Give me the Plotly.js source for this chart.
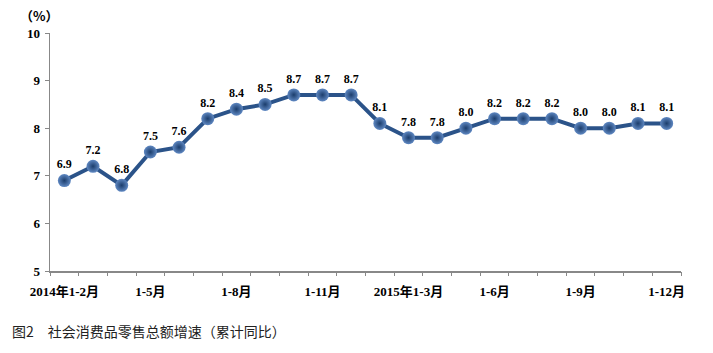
<!DOCTYPE html>
<html>
<head>
<meta charset="utf-8">
<script src="https://cdn.plot.ly/plotly-3.0.1.min.js"></script>
<style>html,body{margin:0;padding:0;background:#fff}#chart{width:713px;height:353px}</style>
</head>
<body>
<div id="chart"></div>
<script>
var categories = ["2014年1-2月","2014年1-3月","2014年1-4月","2014年1-5月","2014年1-6月","2014年1-7月","2014年1-8月","2014年1-9月","2014年1-10月","2014年1-11月","2014年1-12月",
                  "2015年1-2月","2015年1-3月","2015年1-4月","2015年1-5月","2015年1-6月","2015年1-7月","2015年1-8月","2015年1-9月","2015年1-10月","2015年1-11月","2015年1-12月"];
var values = [6.9,7.2,6.8,7.5,7.6,8.2,8.4,8.5,8.7,8.7,8.7,8.1,7.8,7.8,8.0,8.2,8.2,8.2,8.0,8.0,8.1,8.1];
var tickCats = ["2014年1-2月","2014年1-5月","2014年1-8月","2014年1-11月","2015年1-3月","2015年1-6月","2015年1-9月","2015年1-12月"];
var tickLabels = ["2014年1-2月","1-5月","1-8月","1-11月","2015年1-3月","1-6月","1-9月","1-12月"];
var yTicks = [5,6,7,8,9,10];

var boundaries = [];
for (var i = 0; i <= categories.length; i++) boundaries.push(i - 0.5);

var labelFont = {family:"Liberation Serif, 'Noto Sans CJK SC', serif", size:12, color:"#000", weight:"bold"};
var tickFont = {family:"Liberation Serif, 'Noto Sans CJK SC', serif", size:13, color:"#000", weight:"bold"};

var traces = [{
  type:"scatter", mode:"lines+markers+text",
  x:categories, y:values,
  text:values.map(function(v){return v.toFixed(1);}),
  textposition:"top center",
  textfont:labelFont,
  line:{color:"#2b5389", width:4},
  marker:{size:13, color:"#5f88c2", gradient:{type:"radial", color:"#1b3d6c"}, line:{width:0}},
  cliponaxis:false, hoverinfo:"skip", showlegend:false
},{
  type:"scatter", mode:"markers", x:[0], y:[5], xaxis:"x2",
  marker:{opacity:0}, hoverinfo:"skip", showlegend:false
}];

var layout = {
  width:713, height:353,
  margin:{l:50, r:32, t:33, b:82},
  paper_bgcolor:"#fff", plot_bgcolor:"#fff",
  xaxis:{type:"category", range:[-0.5,21.5], tickvals:tickCats, ticktext:tickLabels,
         ticks:"", showgrid:false, zeroline:false, showline:true, linecolor:"#888", linewidth:1.5,
         tickfont:tickFont, ticklabelstandoff:8, fixedrange:true},
  xaxis2:{overlaying:"x", side:"bottom", range:[-0.5,21.5], tickvals:boundaries,
          showticklabels:false, ticks:"outside", ticklen:4, tickcolor:"#888", tickwidth:1,
          showgrid:false, zeroline:false, showline:false},
  yaxis:{range:[5,10], tickvals:yTicks, ticks:"outside", ticklen:4, tickcolor:"#888",
         showgrid:false, zeroline:false, showline:true, linecolor:"#888", linewidth:1.5,
         tickfont:tickFont, ticklabelstandoff:2},
  annotations:[
    {text:"（%）", xref:"paper", yref:"paper", x:-0.016, y:1.0, yshift:6, xanchor:"center", yanchor:"bottom",
     showarrow:false, font:{family:"'Noto Sans CJK SC', sans-serif", size:13, color:"#000", weight:"bold"}},
    {text:"图2　社会消费品零售总额增速（累计同比）", xref:"paper", yref:"paper", x:-0.063, y:0, yshift:-48,
     xanchor:"left", yanchor:"top", showarrow:false,
     font:{family:"'Noto Sans CJK SC', sans-serif", size:14, color:"#222"}}
  ]
};

Plotly.newPlot("chart", traces, layout, {displayModeBar:false, staticPlot:true});
</script>
</body>
</html>
